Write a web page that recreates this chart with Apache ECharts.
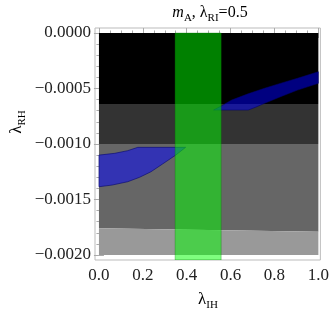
<!DOCTYPE html>
<html><head><meta charset="utf-8">
<script src="https://cdn.jsdelivr.net/npm/echarts@6/dist/echarts.min.js"></script>
<style>html,body{margin:0;padding:0;background:#fff}#c{width:332px;height:313px}</style>
</head><body><div id="c"></div>
<script>
// ---- data ----
const xMajorTicks = [0, 0.2, 0.4, 0.6, 0.8, 1.0];
const xMinorTicks = [0.05,0.1,0.15,0.25,0.3,0.35,0.45,0.5,0.55,0.65,0.7,0.75,0.85,0.9,0.95];
const yMajorTicks = [-0.002, -0.0015, -0.001, -0.0005, 0];
const yMinorTicks = [-0.0019,-0.0018,-0.0017,-0.0016,-0.0014,-0.0013,-0.0012,-0.0011,-0.0009,-0.0008,-0.0007,-0.0006,-0.0004,-0.0003,-0.0002,-0.0001];
const xRange = [-0.018, 1.009];
const yRange = [-0.002045, 0.000045];

const regionBlack = [[0,0],[1,0],[1,-0.00064],[0,-0.00064]];
const regionDark  = [[0,-0.00064],[1,-0.00064],[1,-0.001],[0,-0.001]];
const regionMid   = [[0,-0.001],[1,-0.001],[1,-0.00179],[0,-0.00176]];
const regionLight = [[0,-0.00176],[1,-0.00179],[1,-0.002],[0,-0.002]];
const blueUpper = [[0.5225,-0.000694],[0.56,-0.000655],[0.605,-0.000604],[0.68,-0.000548],[0.755,-0.000498],[0.83,-0.000452],[0.905,-0.000408],[1.0,-0.000349],
                   [1.0,-0.000453],[0.905,-0.000514],[0.83,-0.000572],[0.755,-0.000633],[0.716,-0.000667],[0.68,-0.000694]];
const blueLower = [[0,-0.0011],[0.072,-0.001084],[0.131,-0.00106],[0.177,-0.00103],[0.395,-0.00103],
                   [0.35,-0.0011],[0.29,-0.00118],[0.237,-0.00125],[0.185,-0.0013],[0.131,-0.00134],[0.06,-0.00137],[0,-0.001385]];
const greenBand = [[0.347,0],[0.557,0],[0.557,-0.002045],[0.347,-0.002045]];

const regions = [regionBlack, regionDark, regionMid, regionLight, blueUpper, blueLower, greenBand];
// ---- styles ----
const regionStyles = [
  {fill:'#000000'}, {fill:'#333333'}, {fill:'#666666'}, {fill:'#999999'},
  {fill:'rgba(0,0,255,0.5)', stroke:'rgba(0,0,110,0.7)', lineWidth:0.8},
  {fill:'rgba(0,0,255,0.5)', stroke:'rgba(0,0,110,0.7)', lineWidth:0.8},
  {fill:'rgba(0,255,0,0.5)', stroke:'rgba(0,120,0,0.5)', lineWidth:0.6}
];

const FONT = "'Liberation Serif','DejaVu Serif',serif";
const tickColor = '#aaaaaa';
function xAxisDef(pos, ticks, len, labels){
  return {type:'value', position:pos, min:xRange[0], max:xRange[1],
    axisLine:{show:false}, splitLine:{show:false},
    axisTick:{show:true, inside:true, length:len, customValues:ticks, lineStyle:{color:tickColor}},
    axisLabel:{show:labels, customValues:ticks, margin:7, color:'#222', fontFamily:FONT, fontSize:17,
      formatter:v=>Number(v).toFixed(1)}};
}
function yAxisDef(pos, ticks, len, labels){
  return {type:'value', position:pos, min:yRange[0], max:yRange[1],
    axisLine:{show:false}, splitLine:{show:false},
    axisTick:{show:true, inside:true, length:len, customValues:ticks, lineStyle:{color:tickColor}},
    axisLabel:{show:labels, customValues:ticks, margin:4, color:'#222', fontFamily:FONT, fontSize:17,
      formatter:v=>{ if (Math.abs(v)<1e-12) return '0.0000'; return (v<0?'\u2212':'')+Math.abs(v).toFixed(4);} }};
}

const chart = echarts.init(document.getElementById('c'), null, {renderer:'canvas'});
const sub = (fs)=>({fontSize:fs, fontFamily:FONT, color:'#222', lineHeight:11, verticalAlign:'bottom'});
const main = (fs, italic)=>({fontSize:fs, fontFamily:FONT, color:'#222', lineHeight:22, verticalAlign:'middle', fontStyle: italic?'italic':'normal'});
chart.setOption({
  animation:false,
  grid:{left:95, top:28, right:9, bottom:53, show:true, borderColor:'#bbbbbb', borderWidth:1, backgroundColor:'transparent'},
  xAxis:[xAxisDef('bottom', xMajorTicks, 5, true), xAxisDef('bottom', xMinorTicks, 2.5, false),
         xAxisDef('top', xMajorTicks, 5, false), xAxisDef('top', xMinorTicks, 2.5, false)],
  yAxis:[yAxisDef('left', yMajorTicks, 5, true), yAxisDef('left', yMinorTicks, 2.5, false),
         yAxisDef('right', yMajorTicks, 5, false), yAxisDef('right', yMinorTicks, 2.5, false)],
  series:[{
    type:'custom', xAxisIndex:0, yAxisIndex:0, clip:true,
    data: regions.map(r=>r[0]),
    renderItem:(params, api)=>{
      const pts = regions[params.dataIndex].map(p=>api.coord(p));
      const s = regionStyles[params.dataIndex];
      return {type:'polygon', shape:{points:pts}, style:{fill:s.fill, stroke:s.stroke||null, lineWidth:s.lineWidth||0}};
    }
  }],
  graphic:[
    {type:'text', x:210, y:13, style:{text:'{i|m}{s|A}{a|, λ}{s|RI}{a|=0.5}', align:'center', verticalAlign:'middle',
      rich:{i:main(16,true), a:main(16,false), s:sub(11)}}},
    {type:'text', x:208, y:300, style:{text:'{a|λ}{s|IH}', align:'center', verticalAlign:'middle',
      rich:{a:main(17,false), s:sub(11)}}},
    {type:'text', x:17, y:122, rotation:Math.PI/2, style:{text:'{a|λ}{s|RH}', align:'center', verticalAlign:'middle',
      rich:{a:main(17,false), s:sub(11)}}}
  ]
});
</script></body></html>
